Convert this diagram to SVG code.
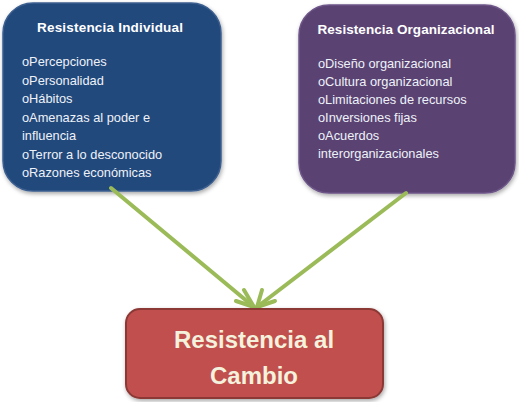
<svg xmlns="http://www.w3.org/2000/svg" width="519" height="402" viewBox="0 0 519 402">
<defs>
<style>
.t{font-family:"Liberation Sans",Arial,sans-serif;fill:#ffffff;font-weight:bold;font-size:13.5px}
.i{font-family:"Liberation Sans",Arial,sans-serif;fill:#eef2f8;font-size:12.8px}
.m{font-family:"Liberation Sans",Arial,sans-serif;fill:#f4f1dc;font-weight:bold;font-size:24px}
.c{stroke:#9bbb59;stroke-width:4;fill:none;stroke-linecap:round;stroke-linejoin:round}
</style>
<filter id="sh" x="-10%" y="-10%" width="120%" height="120%">
<feDropShadow dx="1" dy="2" stdDeviation="2" flood-color="#000" flood-opacity="0.35"/>
</filter>
</defs>
<rect width="519" height="402" fill="#ffffff"/>
<g id="individual">
<rect x="3" y="3" width="218" height="188" rx="30" fill="#24497c" stroke="#3c5f90" stroke-width="1.5" filter="url(#sh)"/>
<text class="t" x="110" y="32" text-anchor="middle" textLength="146">Resistencia Individual</text>
<text class="i" x="22" y="66">oPercepciones</text>
<text class="i" x="22" y="85">oPersonalidad</text>
<text class="i" x="22" y="103">oHábitos</text>
<text class="i" x="22" y="122">oAmenazas al poder e</text>
<text class="i" x="22" y="140">influencia</text>
<text class="i" x="22" y="159">oTerror a lo desconocido</text>
<text class="i" x="22" y="177">oRazones económicas</text>
</g>
<g id="organizacional">
<rect x="299" y="5" width="216" height="188" rx="30" fill="#5a4273" stroke="#6e5688" stroke-width="1.5" filter="url(#sh)"/>
<text class="t" x="406" y="34" text-anchor="middle" textLength="177">Resistencia Organizacional</text>
<text class="i" x="318" y="68">oDiseño organizacional</text>
<text class="i" x="318" y="86">oCultura organizacional</text>
<text class="i" x="318" y="104">oLimitaciones de recursos</text>
<text class="i" x="318" y="122">oInversiones fijas</text>
<text class="i" x="318" y="140">oAcuerdos</text>
<text class="i" x="318" y="158">interorganizacionales</text>
</g>
<g id="connectors">
<path class="c" d="M111,188 L254,307"/>
<path class="c" d="M244,290 L254,307 L236,301"/>
<path class="c" d="M406,193 L257,307"/>
<path class="c" d="M262,290 L257,307 L275,301"/>
</g>
<g id="cambio">
<rect x="126" y="309" width="257" height="89" rx="14" fill="#c0504d" stroke="#8c3836" stroke-width="2" filter="url(#sh)"/>
<text class="m" x="254" y="348" text-anchor="middle">Resistencia al</text>
<text class="m" x="254" y="384" text-anchor="middle">Cambio</text>
</g>
</svg>
